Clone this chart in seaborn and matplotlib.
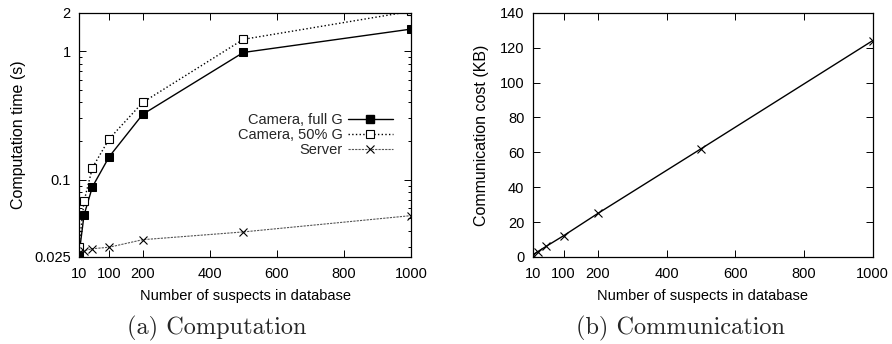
import matplotlib
matplotlib.use("Agg")
import matplotlib.pyplot as plt
import numpy as np
import pandas as pd
import seaborn as sns
from matplotlib.lines import Line2D
from matplotlib.ticker import FixedLocator, LogLocator, NullFormatter

# ---- data ----
suspects = [10, 25, 50, 100, 200, 500, 1000]
camera_full = [0.026, 0.053, 0.088, 0.151, 0.323, 0.98, 1.49]
camera_half = [0.030, 0.068, 0.124, 0.208, 0.40, 1.24, 2.05]
server = [0.027, 0.028, 0.029, 0.0298, 0.0341, 0.0392, 0.0525]
comm_kb = [1.2, 3.1, 6.2, 12.2, 25.0, 62.0, 124.0]

xticks = [10, 100, 200, 400, 600, 800, 1000]
yticks_left = [0.025, 0.1, 1, 2]
yticks_left_labels = ["0.025", "0.1", "1", "2"]
yticks_right = [0, 20, 40, 60, 80, 100, 120, 140]

sns.set_style("ticks")
plt.rcParams["font.family"] = ["Liberation Sans", "DejaVu Sans"]

fig = plt.figure(figsize=(8.92, 3.44), dpi=100)
axL = fig.add_axes([79 / 892, 1 - 257 / 344, 332 / 892, (257 - 12.7) / 344])
axR = fig.add_axes([532.7 / 892, 1 - 257 / 344, 340 / 892, (257 - 12.7) / 344])

fs = 10.5
ms = 6
df = pd.DataFrame({"x": suspects, "full": camera_full, "half": camera_half,
                   "server": server, "comm": comm_kb})

# left: computation
sns.lineplot(data=df, x="x", y="full", ax=axL, color="black", lw=1.0,
             marker="s", markersize=ms, markerfacecolor="black",
             markeredgecolor="black", legend=False)
sns.lineplot(data=df, x="x", y="half", ax=axL, color="black", lw=1.0,
             linestyle=":", marker="s", markersize=ms, markerfacecolor="white",
             markeredgecolor="black", markeredgewidth=0.8, legend=False)
sns.lineplot(data=df, x="x", y="server", ax=axL, color="#555555", lw=0.8,
             linestyle=(0, (2, 1)), marker="x", markersize=ms,
             markeredgecolor="black", markeredgewidth=0.8, legend=False)
axL.set_yscale("log")
axL.set_xlim(10, 1000)
axL.set_ylim(0.025, 2)
axL.yaxis.set_major_locator(FixedLocator(yticks_left))
axL.set_yticklabels(yticks_left_labels)
axL.yaxis.set_minor_locator(LogLocator(base=10, subs=np.arange(2, 10)))
axL.yaxis.set_minor_formatter(NullFormatter())
axL.set_xticks(xticks)
axL.set_xlabel("Number of suspects in database", fontsize=fs, labelpad=6)
axL.set_ylabel("Computation time (s)", fontsize=11.5, labelpad=6)

handles = [
    Line2D([], [], color="black", lw=1.0, marker="s", markersize=ms,
           markerfacecolor="black"),
    Line2D([], [], color="black", lw=1.0, linestyle=":", marker="s",
           markersize=ms, markerfacecolor="white", markeredgewidth=0.8),
    Line2D([], [], color="#555555", lw=0.8, linestyle=(0, (2, 1)), marker="x",
           markersize=ms, markeredgecolor="black", markeredgewidth=0.8),
]
leg = axL.legend(handles, ["Camera, full G", "Camera, 50% G", "Server"],
                 loc="upper right", bbox_to_anchor=(393 / 892, 1 - 113 / 344),
                 bbox_transform=fig.transFigure,
                 markerfirst=False, frameon=False, fontsize=fs,
                 handlelength=3.1, labelspacing=0.07, handletextpad=0.35,
                 borderaxespad=0, borderpad=0, alignment="right")
for t in leg.get_texts():
    t.set_ha("right")

# right: communication
sns.lineplot(data=df, x="x", y="comm", ax=axR, color="black", lw=1.0,
             marker="x", markersize=ms, markeredgecolor="black",
             markeredgewidth=0.8, legend=False)
axR.set_xlim(10, 1000)
axR.set_ylim(0, 140)
axR.set_xticks(xticks)
axR.set_yticks(yticks_right)
axR.set_xlabel("Number of suspects in database", fontsize=fs, labelpad=6)
axR.set_ylabel("Communication cost (KB)", fontsize=11.5, labelpad=8)

for ax in (axL, axR):
    for s in ax.spines.values():
        s.set_visible(True)
        s.set_linewidth(0.9)
        s.set_color("black")
    ax.tick_params(which="both", direction="in", top=True, right=True,
                   labelsize=fs, colors="black", width=0.7)
    ax.tick_params(which="major", length=5)
    ax.tick_params(axis="x", which="major", pad=7)
    ax.tick_params(axis="y", which="major", pad=6)
    ax.tick_params(which="minor", length=2.5)
    ax.xaxis.label.set_color("black")
    ax.yaxis.label.set_color("black")

fig.text(217 / 892, 1 - 328 / 344, "(a) Computation", family="cmr10",
         fontsize=17.5, ha="center", va="center")
fig.text(680 / 892, 1 - 328 / 344, "(b) Communication", family="cmr10",
         fontsize=17.5, ha="center", va="center")

fig.savefig("out.png", dpi=100)
